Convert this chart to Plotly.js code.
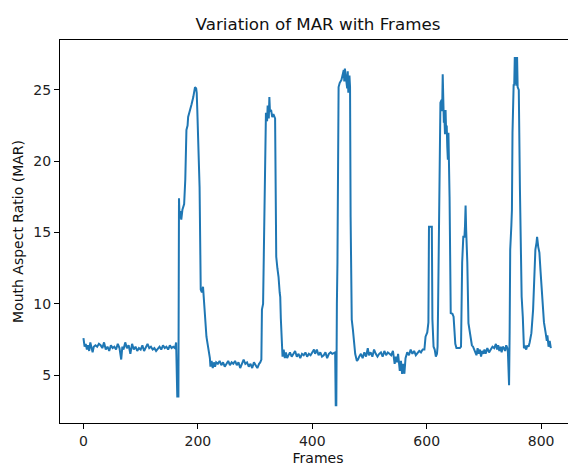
<!DOCTYPE html>
<html>
<head>
<meta charset="utf-8">
<script src="https://cdn.plot.ly/plotly-3.0.1.min.js"></script>
<style>
html,body{margin:0;padding:0;overflow:hidden;background:#fff;}
#chart{width:600px;height:466px;}
</style>
</head>
<body>
<div id="chart"></div>
<script>
const frames = [
0,2,4,6,8,10,12,14,16,18,21,24,27,30,33,36,39,42,45,48,51,54,57,60,63,66,68,70,73,76,79,82,85,88,91,94,97,100,103,106,109,112,115,118,121,124,127,130,133,136,139,142,145,148,151,154,157,160,162,
164,166,167,168,169,171,173,176,178,180,182,183,185,187,189,192,195,197,198,199,201,203,205,207,209,210,212,214,215,217,219,221,222,224,226,228,230,232,235,238,241,244,247,250,253,256,259,262,265,268,271,274,277,280,283,286,289,292,295,298,301,304,307,309,311,
312,314,316,318,319,321,322,324,325,326,328,330,332,335,337,339,341,343,344,345,346,347,348,349,350,352,354,356,358,361,364,367,370,373,376,379,382,385,388,391,394,397,400,403,405,408,411,414,417,420,423,426,429,432,435,438,440,
441,442,443,444,446,448,451,453,455,456,457,459,461,462,463,465,466,467,468,469,471,473,475,478,480,482,485,488,491,494,497,499,502,505,508,511,514,517,520,523,526,529,532,535,
538,541,544,546,548,550,553,555,557,559,561,563,566,569,572,575,578,581,584,587,590,593,596,598,601,603,604,609,610,612,614,616,618,619,620,621,623,624,626,627,628,629,630,631,632,633,634,635,636,637,638,639,640,642,645,647,648,650,652,655,658,660,
662,664,666,667,668,669,671,673,675,677,679,681,683,685,687,689,691,693,695,697,699,701,703,706,709,712,715,718,721,723,725,727,729,731,733,735,737,739,741,742,
744,745,746,748,749,750,751,752,753,754,755,756,757,758,759,761,763,765,766,768,770,772,774,776,778,780,783,786,788,790,792,793,795,797,799,802,805,808,810,811,813,815,817
];
const mar = [
7.6,7.0,7.2,6.8,7.1,6.7,7.3,6.9,6.6,7.0,7.1,7.0,7.2,7.1,6.9,7.3,6.8,7.0,6.7,7.1,6.9,7.0,6.8,7.2,6.9,6.1,7.0,6.8,7.3,6.9,7.1,6.5,7.2,6.8,7.0,6.7,6.9,6.8,7.1,6.7,6.9,7.2,6.9,7.0,6.8,6.9,6.7,6.9,7.0,6.8,7.1,6.9,7.0,6.8,7.1,6.9,7.0,6.9,7.3,
3.5,3.5,17.4,16.0,16.5,15.9,16.6,17.0,18.7,22.2,22.5,23.1,23.4,23.8,24.0,24.5,25.2,25.1,24.8,23.6,20.5,18.2,11.0,10.8,11.2,10.6,9.4,8.2,7.7,7.2,6.8,6.2,5.6,6.0,5.5,5.9,5.6,5.9,5.8,6.0,5.7,5.9,5.6,5.8,6.0,5.7,5.9,5.8,6.0,5.7,5.9,5.5,5.8,6.1,5.8,5.9,5.6,5.8,5.5,5.9,5.7,5.5,5.8,5.9,6.1,
9.6,10.0,14.3,19.0,23.4,22.8,23.9,23.0,24.5,23.5,23.6,23.1,23.3,23.0,13.3,12.5,11.9,10.8,10.5,9.0,8.2,7.2,6.3,6.6,6.8,6.2,6.6,6.2,6.4,6.6,6.3,6.5,6.7,6.3,6.5,6.2,6.5,6.4,6.6,6.3,6.5,6.4,6.6,6.8,6.5,6.8,6.4,6.6,6.3,6.4,6.6,6.2,6.5,6.6,6.5,6.6,6.6,
2.9,2.9,10.0,12.9,25.2,25.5,25.7,26.0,26.4,25.6,26.5,25.8,25.1,26.3,24.8,26.0,25.2,16.1,12.0,8.9,8.2,7.3,6.5,6.0,6.1,6.3,6.5,6.2,6.6,6.3,6.9,6.4,6.6,6.3,6.8,6.5,6.3,6.5,6.6,6.3,6.7,6.4,6.6,6.5,
6.4,6.7,5.8,6.3,5.9,6.5,5.3,6.0,5.1,5.8,5.1,6.2,6.6,6.4,6.8,6.5,6.7,6.4,6.6,6.7,6.6,6.8,6.8,7.7,8.0,8.7,15.4,15.4,8.9,7.0,6.8,6.3,6.5,7.0,10.0,14.0,20.0,24.1,24.3,23.5,26.1,24.0,22.7,23.0,21.9,23.6,22.0,22.5,21.0,20.1,22.0,20.5,17.5,9.35,9.3,9.1,8.0,7.2,6.9,6.9,6.9,7.0,
12.9,14.7,14.7,15.5,16.9,15.2,12.9,8.65,8.0,7.5,7.1,7.0,6.8,6.5,6.4,6.9,6.5,6.8,6.3,6.7,6.5,6.8,6.5,6.9,6.6,6.8,7.0,6.9,7.2,6.8,7.1,6.7,7.0,6.6,7.0,6.9,6.7,7.1,6.9,6.6,
4.3,8.0,13.8,15.5,16.6,22.0,25.2,25.4,25.3,27.3,25.4,27.3,25.3,27.3,25.2,25.0,18.0,12.0,10.5,9.1,6.9,7.0,6.8,7.1,7.0,7.3,7.95,9.6,11.7,13.8,14.3,14.7,14.0,13.6,12.3,10.5,8.7,7.95,7.4,7.8,7.0,7.4,6.9
];
const titleText = "Variation of MAR with Frames";
const xTitle = "Frames";
const yTitle = "Mouth Aspect Ratio (MAR)";

const fontFam = "DejaVu Sans, sans-serif";
const axisCommon = {
  showline: true, mirror: true, linecolor: "#000", linewidth: 1,
  ticks: "outside", ticklen: 5, tickwidth: 1, tickcolor: "#000",
  showgrid: false, zeroline: false,
  tickfont: {family: fontFam, size: 14, color: "#222"}
};
Plotly.newPlot("chart", [{
  x: frames, y: mar, type: "scatter", mode: "lines",
  line: {color: "#1f77b4", width: 2}
}], {
  width: 600, height: 466,
  margin: {l: 60, r: 24, t: 40, b: 43},
  paper_bgcolor: "#fff", plot_bgcolor: "#fff",
  showlegend: false,
  title: {text: titleText, x: 0.5, xref: "paper", yref: "container", y: 0.948, yanchor: "middle", font: {family: fontFam, size: 16.7, color: "#111"}},
  xaxis: Object.assign({}, axisCommon, {range: [-41, 861], tickvals: [0,200,400,600,800],
    title: {text: xTitle, standoff: 5, font: {family: fontFam, size: 14, color: "#111"}}}),
  yaxis: Object.assign({}, axisCommon, {range: [1.65, 28.5], tickvals: [5,10,15,20,25],
    title: {text: yTitle, standoff: 6, font: {family: fontFam, size: 14, color: "#111"}}})
}, {displayModeBar: false, staticPlot: true});
</script>
</body>
</html>
